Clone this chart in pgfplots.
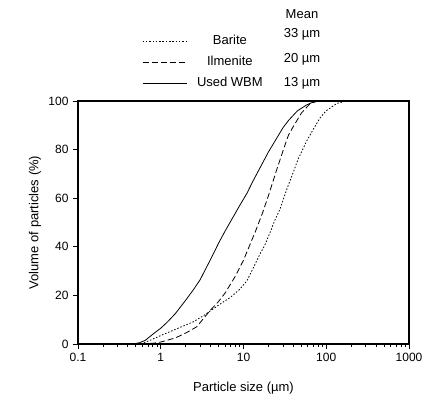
\documentclass[border=0pt]{standalone}
\usepackage{fontspec}
\setmainfont{Liberation Sans}
\usepackage{pgfplots}
\pgfplotsset{compat=1.18}
\begin{document}
\fontsize{13bp}{15.6bp}\selectfont
\begin{tikzpicture}
\useasboundingbox (0,0) rectangle (430bp,400bp);
\begin{axis}[
  at={(78bp,56bp)}, anchor=south west,
  scale only axis, width=331bp, height=243bp,
  xmode=log, xmin=0.1, xmax=1000, ymin=0, ymax=100,
  ytick={0,20,40,60,80,100},
  xtick={0.1,1,10,100,1000},
  xticklabels={0.1,1,10,100,1000},
  minor xtick={0.2,0.3,0.4,0.5,0.6,0.7,0.8,0.9,2,3,4,5,6,7,8,9,20,30,40,50,60,70,80,90,200,300,400,500,600,700,800,900},
  tick pos=left,
  tick align=outside,
  major tick length=5bp, minor tick length=3bp,
  every tick/.style={black, line width=0.8bp},
  axis line style={black, line width=1.1bp},
  ticklabel style={font=\fontsize{12bp}{14bp}\selectfont},
  /pgf/number format/assume math mode=true,
  xlabel={Particle size (µm)},
  ylabel={Volume of particles (\%)},
  xlabel style={at={(axis description cs:0.5,-0.181)}, anchor=center},
  ylabel style={at={(axis description cs:-0.13,0.5)}, anchor=center},
  legend style={at={(axis description cs:0.1934,1.274)}, anchor=north west, draw=none, fill=none,
    inner sep=0pt, row sep=8bp, column sep=10bp,
    nodes={inner sep=0pt, text height=10bp, text depth=3bp}},
  legend cell align=center,
  legend image code/.code={\draw[#1] (0bp,0bp) -- (44bp,0bp);},
]
\addplot[black, line width=0.8bp, dash pattern=on 1.5bp off 1.8bp] coordinates {
(0.1,0) (0.55,0) (0.65,0.7) (0.8,2) (1,3.5) (1.5,6) (2,7.8) (2.5,9.2) (3.4,12) (4,13.7) (5,16) (7,19.3) (9,22.5) (11,26) (13,31) (15.8,37) (18,40.5) (21,46) (24,51) (27.6,55.5) (33.6,64) (39.3,70) (45.6,76) (58,83.5) (70,88.5) (84,93) (100,96) (134,99) (177,100) (1000,100)};
\addlegendentry{Barite}
\addplot[black, line width=0.8bp, dash pattern=on 6bp off 3bp] coordinates {
(0.1,0) (0.55,0) (0.8,0.3) (1,0.8) (1.5,2.5) (2,4.5) (2.7,7) (3.2,10) (4,14) (5,17.5) (6,21) (8,28) (10,34.5) (12,41) (14,46.5) (17,54) (20,61) (24,69.5) (30,79.5) (35,86) (40,89.5) (50,95) (64,99) (80,100) (1000,100)};
\addlegendentry{Ilmenite}
\addplot[black, line width=0.8bp] coordinates {
(0.1,0) (0.45,0) (0.55,0.5) (0.65,1.5) (0.8,4) (1.0,6.5) (1.2,9) (1.5,12.5) (2,18) (2.5,22.5) (3,26.5) (3.5,31) (4,34.8) (5,41.5) (6,46.5) (7,50.5) (9,57) (11,62) (13,67) (15,71) (20,79) (25,84.5) (30,89) (35,92) (45,96) (58,98.4) (70,99.6) (80,100) (1000,100)};
\addlegendentry{Used WBM}
\end{axis}
\node at (302bp,386bp) {Mean};
\node at (302bp,366bp) {33 µm};
\node at (302bp,341bp) {20 µm};
\node at (302bp,317bp) {13 µm};
\end{tikzpicture}
\end{document}
